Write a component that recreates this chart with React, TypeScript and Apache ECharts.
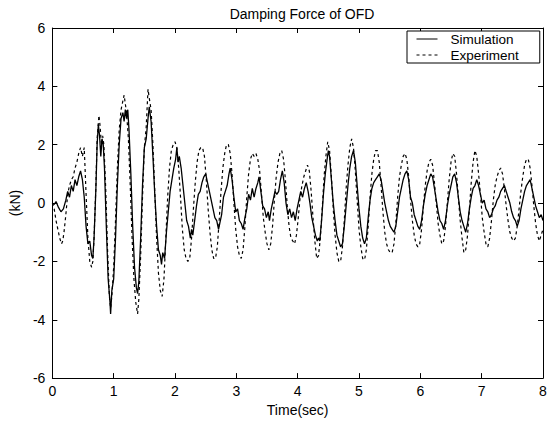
import React, { useEffect, useRef } from "react";
import * as echarts from "echarts";

const title = "Damping Force of OFD";
const xName = "Time(sec)";
const yName = "(kN)";
const seriesNames = ["Simulation", "Experiment"];

const simulation: [number, number][] = [
  [0.0, 0.0], [0.03, -0.05], [0.06, 0.05], [0.1, -0.15], [0.14, -0.3], [0.18, -0.2], [0.22, 0.1], [0.25, 0.4],
  [0.28, 0.2], [0.31, 0.6], [0.34, 0.4], [0.37, 0.8], [0.4, 0.6], [0.43, 0.9], [0.46, 1.1], [0.49, 0.8],
  [0.52, 0.2], [0.55, -0.8], [0.58, -1.4], [0.61, -1.3], [0.64, -1.8], [0.66, -1.9], [0.68, -1.2], [0.71, 0.5],
  [0.73, 2.0], [0.75, 2.7], [0.77, 2.3], [0.79, 1.6], [0.81, 2.2], [0.83, 2.0], [0.85, 1.2], [0.88, -0.8],
  [0.91, -2.6], [0.94, -3.4], [0.95, -3.8], [0.97, -3.0], [1.0, -2.6], [1.03, -1.2], [1.06, 0.6], [1.09, 2.0],
  [1.12, 2.9], [1.15, 3.1], [1.17, 2.8], [1.19, 3.2], [1.21, 2.9], [1.23, 3.2], [1.25, 2.5], [1.28, 1.0],
  [1.31, -0.8], [1.34, -2.2], [1.37, -2.9], [1.39, -3.1], [1.41, -2.7], [1.44, -1.2], [1.47, 0.6], [1.5, 1.9],
  [1.53, 2.2], [1.56, 2.9], [1.58, 3.3], [1.61, 2.8], [1.64, 1.6], [1.67, 0.3], [1.7, -0.8], [1.73, -1.6],
  [1.76, -1.8], [1.78, -2.1], [1.8, -1.7], [1.83, -1.9], [1.86, -1.0], [1.89, -0.3], [1.92, 0.4], [1.95, 0.8],
  [1.98, 1.2], [2.01, 1.5], [2.03, 1.9], [2.05, 1.4], [2.07, 1.6], [2.1, 1.2], [2.13, 0.6], [2.16, 0.0],
  [2.19, -0.6], [2.22, -0.8], [2.25, -1.2], [2.27, -0.9], [2.29, -1.1], [2.32, -0.6], [2.35, -0.1], [2.38, 0.3],
  [2.41, 0.4], [2.44, 0.7], [2.47, 0.9], [2.5, 1.0], [2.53, 0.7], [2.56, 0.4], [2.59, 0.1], [2.62, -0.2],
  [2.65, -0.5], [2.68, -0.6], [2.71, -0.9], [2.73, -0.7], [2.76, -0.4], [2.79, 0.2], [2.82, 0.4], [2.85, 0.6],
  [2.88, 1.0], [2.9, 1.2], [2.93, 0.8], [2.96, 0.2], [2.99, -0.3], [3.02, -0.2], [3.05, -0.6], [3.08, -0.7],
  [3.11, -0.9], [3.14, -0.5], [3.17, -0.2], [3.2, 0.3], [3.23, 0.1], [3.26, 0.5], [3.29, 0.2], [3.32, 0.5],
  [3.35, 0.7], [3.37, 0.9], [3.4, 0.4], [3.43, -0.1], [3.46, -0.2], [3.49, -0.5], [3.52, -0.3], [3.54, -0.6],
  [3.57, -0.2], [3.6, 0.1], [3.63, 0.4], [3.66, 0.3], [3.69, 0.4], [3.72, 0.8], [3.75, 1.1], [3.78, 0.7],
  [3.81, 0.0], [3.84, -0.4], [3.87, -0.2], [3.9, -0.5], [3.93, -0.3], [3.96, -0.6], [3.99, -0.2], [4.02, 0.1],
  [4.05, 0.4], [4.08, 0.2], [4.11, 0.5], [4.14, 0.7], [4.17, 0.4], [4.2, 0.0], [4.23, -0.5], [4.26, -0.8],
  [4.29, -1.1], [4.32, -1.3], [4.34, -1.2], [4.36, -1.3], [4.39, -0.6], [4.42, 0.3], [4.45, 1.0], [4.48, 1.5],
  [4.5, 1.8], [4.52, 1.6], [4.55, 0.8], [4.58, 0.0], [4.61, -0.6], [4.64, -1.1], [4.67, -1.3], [4.7, -1.5],
  [4.73, -1.4], [4.76, -0.8], [4.79, -0.1], [4.82, 0.6], [4.85, 1.2], [4.88, 1.6], [4.91, 1.8], [4.94, 1.4],
  [4.97, 0.6], [5.0, -0.2], [5.03, -0.8], [5.06, -1.2], [5.09, -1.4], [5.12, -1.2], [5.15, -0.5], [5.18, 0.1],
  [5.21, 0.5], [5.24, 0.7], [5.27, 0.8], [5.3, 0.9], [5.33, 1.0], [5.36, 0.8], [5.39, 0.4], [5.42, 0.0],
  [5.45, -0.3], [5.48, -0.6], [5.51, -0.8], [5.54, -0.9], [5.57, -1.0], [5.6, -0.8], [5.63, -0.3], [5.66, 0.2],
  [5.69, 0.5], [5.72, 0.8], [5.75, 1.0], [5.78, 1.1], [5.81, 0.8], [5.84, 0.2], [5.87, 0.0], [5.9, -0.4],
  [5.93, -0.6], [5.96, -0.8], [5.99, -0.9], [6.02, -0.6], [6.05, -0.1], [6.08, 0.3], [6.11, 0.6], [6.14, 0.8],
  [6.17, 1.0], [6.2, 0.9], [6.23, 0.5], [6.26, 0.1], [6.29, -0.3], [6.32, -0.6], [6.35, -0.7], [6.38, -0.9],
  [6.41, -0.6], [6.44, -0.1], [6.47, 0.3], [6.5, 0.6], [6.53, 0.9], [6.56, 1.0], [6.59, 0.7], [6.62, 0.2],
  [6.65, -0.3], [6.68, -0.6], [6.71, -0.8], [6.74, -1.0], [6.77, -0.7], [6.8, -0.2], [6.83, 0.2], [6.86, 0.5],
  [6.89, 0.6], [6.92, 0.8], [6.95, 0.6], [6.98, 0.3], [7.01, 0.0], [7.04, 0.1], [7.07, -0.2], [7.1, -0.3],
  [7.13, -0.5], [7.16, -0.4], [7.19, -0.2], [7.22, -0.1], [7.25, 0.1], [7.28, 0.2], [7.31, 0.4], [7.34, 0.5],
  [7.37, 0.6], [7.4, 0.4], [7.43, 0.2], [7.46, 0.0], [7.49, -0.3], [7.52, -0.5], [7.55, -0.6], [7.58, -0.8],
  [7.61, -0.6], [7.64, -0.2], [7.67, 0.1], [7.7, 0.4], [7.73, 0.6], [7.76, 0.7], [7.79, 0.8], [7.82, 0.5],
  [7.85, 0.2], [7.88, -0.1], [7.91, -0.3], [7.94, -0.5], [7.97, -0.4], [8.0, -0.6],
];

const experiment: [number, number][] = [
  [0.0, 0.0], [0.03, -0.2], [0.06, -0.6], [0.09, -0.9], [0.12, -1.2], [0.15, -1.4], [0.17, -1.3], [0.19, -1.0],
  [0.22, -0.4], [0.25, 0.3], [0.28, 0.6], [0.31, 0.8], [0.34, 0.9], [0.37, 1.2], [0.4, 1.4], [0.43, 1.7],
  [0.46, 1.9], [0.49, 1.6], [0.52, 1.9], [0.55, 0.3], [0.58, -1.2], [0.61, -2.0], [0.64, -2.2], [0.66, -2.0],
  [0.68, -1.2], [0.71, 0.6], [0.73, 2.2], [0.76, 3.0], [0.78, 2.6], [0.8, 2.0], [0.82, 2.3], [0.84, 2.0],
  [0.87, 0.5], [0.9, -1.6], [0.93, -3.2], [0.95, -3.6], [0.97, -3.2], [1.0, -2.2], [1.03, -0.6], [1.06, 1.2],
  [1.09, 2.5], [1.12, 3.2], [1.15, 3.5], [1.17, 3.7], [1.19, 3.4], [1.21, 3.1], [1.24, 2.2], [1.27, 0.6],
  [1.3, -1.2], [1.33, -2.6], [1.36, -3.4], [1.39, -3.8], [1.41, -3.3], [1.44, -1.8], [1.47, 0.2], [1.5, 1.9],
  [1.53, 2.6], [1.56, 3.9], [1.58, 3.6], [1.61, 3.2], [1.64, 2.0], [1.67, 0.4], [1.7, -1.2], [1.73, -2.4],
  [1.76, -3.0], [1.79, -3.2], [1.82, -2.6], [1.85, -1.2], [1.88, 0.2], [1.91, 1.2], [1.94, 1.8], [1.97, 2.0],
  [2.0, 2.1], [2.03, 1.9], [2.06, 1.2], [2.09, 0.2], [2.12, -0.9], [2.15, -1.6], [2.18, -1.9], [2.21, -2.0],
  [2.24, -1.9], [2.27, -1.2], [2.3, -0.2], [2.33, 0.7], [2.36, 1.4], [2.39, 1.8], [2.42, 1.9], [2.45, 1.9],
  [2.48, 1.6], [2.51, 0.8], [2.54, -0.2], [2.57, -1.0], [2.6, -1.6], [2.63, -1.9], [2.66, -1.9], [2.69, -1.5],
  [2.72, -0.6], [2.75, 0.4], [2.78, 1.2], [2.81, 1.7], [2.84, 2.0], [2.87, 2.0], [2.9, 1.7], [2.93, 1.0],
  [2.96, 0.0], [2.99, -0.9], [3.02, -1.5], [3.05, -1.8], [3.08, -1.9], [3.11, -1.6], [3.14, -0.8], [3.17, 0.2],
  [3.2, 1.0], [3.23, 1.5], [3.26, 1.7], [3.29, 1.6], [3.32, 1.7], [3.35, 1.5], [3.38, 1.1], [3.41, 0.3],
  [3.44, -0.5], [3.47, -1.0], [3.5, -1.4], [3.53, -1.6], [3.56, -1.4], [3.59, -0.8], [3.62, 0.1], [3.65, 0.9],
  [3.68, 1.4], [3.71, 1.7], [3.74, 1.8], [3.77, 1.5], [3.8, 0.8], [3.83, -0.1], [3.86, -0.8], [3.89, -1.2],
  [3.92, -1.3], [3.95, -1.4], [3.98, -1.1], [4.01, -0.5], [4.04, 0.2], [4.07, 0.6], [4.1, 0.9], [4.13, 1.1],
  [4.16, 1.3], [4.19, 1.1], [4.22, 0.4], [4.25, -0.5], [4.28, -1.3], [4.31, -1.9], [4.34, -1.8], [4.37, -1.2],
  [4.4, -0.2], [4.43, 0.9], [4.46, 1.6], [4.49, 2.1], [4.52, 1.8], [4.55, 0.9], [4.58, -0.2], [4.61, -1.1],
  [4.64, -1.7], [4.67, -2.0], [4.7, -2.0], [4.73, -1.5], [4.76, -0.6], [4.79, 0.5], [4.82, 1.3], [4.85, 1.9],
  [4.88, 2.2], [4.91, 1.9], [4.94, 1.1], [4.97, 0.1], [5.0, -0.9], [5.03, -1.5], [5.06, -1.9], [5.09, -1.95],
  [5.12, -1.6], [5.15, -0.8], [5.18, 0.2], [5.21, 1.0], [5.24, 1.5], [5.27, 1.8], [5.3, 1.8], [5.33, 1.4],
  [5.36, 0.6], [5.39, -0.3], [5.42, -1.0], [5.45, -1.4], [5.48, -1.6], [5.51, -1.7], [5.54, -1.7], [5.57, -1.4],
  [5.6, -0.7], [5.63, 0.2], [5.66, 0.9], [5.69, 1.3], [5.72, 1.6], [5.75, 1.7], [5.78, 1.5], [5.81, 0.9],
  [5.84, 0.1], [5.87, -0.6], [5.9, -1.1], [5.93, -1.4], [5.96, -1.5], [5.99, -1.4], [6.02, -0.9], [6.05, -0.1],
  [6.08, 0.6], [6.11, 1.1], [6.14, 1.4], [6.17, 1.5], [6.2, 1.3], [6.23, 0.7], [6.26, 0.0], [6.29, -0.7],
  [6.32, -1.1], [6.35, -1.4], [6.38, -1.3], [6.41, -0.8], [6.44, 0.0], [6.47, 0.8], [6.5, 1.4], [6.53, 1.7],
  [6.56, 1.6], [6.59, 1.0], [6.62, 0.2], [6.65, -0.6], [6.68, -1.2], [6.71, -1.7], [6.74, -1.6], [6.77, -1.1],
  [6.8, -0.2], [6.83, 0.7], [6.86, 1.4], [6.89, 1.8], [6.92, 1.6], [6.95, 1.0], [6.98, 0.3], [7.01, -0.5],
  [7.04, -1.0], [7.07, -1.4], [7.1, -1.5], [7.13, -1.2], [7.16, -0.6], [7.19, 0.1], [7.22, 0.6], [7.25, 0.9],
  [7.28, 1.1], [7.31, 1.2], [7.34, 1.0], [7.37, 0.5], [7.4, -0.1], [7.43, -0.6], [7.46, -1.0], [7.49, -1.2],
  [7.52, -1.3], [7.55, -1.2], [7.58, -0.8], [7.61, -0.2], [7.64, 0.4], [7.67, 0.9], [7.7, 1.3], [7.73, 1.5],
  [7.76, 1.5], [7.79, 1.2], [7.82, 0.6], [7.85, -0.1], [7.88, -0.7], [7.91, -1.1], [7.94, -1.3], [7.97, -1.1],
  [8.0, -0.9],
];

const FONT = "'Liberation Sans', Arial, sans-serif";

export default function App() {
  const ref = useRef<HTMLDivElement>(null);
  useEffect(() => {
    if (!ref.current) return;
    const chart = echarts.init(ref.current, undefined, { renderer: "svg" });
    const axisLine = { show: true, onZero: false, lineStyle: { color: "#000", width: 1 } };
    const tick = { show: true, inside: true, length: 5, lineStyle: { color: "#000" } };
    chart.setOption({
      animation: false,
      backgroundColor: "#fff",
      textStyle: { fontFamily: FONT },
      title: {
        text: title,
        left: 297,
        textAlign: "center",
        top: 2,
        textStyle: { fontSize: 14, fontWeight: "normal", color: "#000", fontFamily: FONT },
      },
      legend: {
        orient: "vertical",
        left: 407,
        top: 31,
        padding: [1, 21, 1, 9],
        itemWidth: 21,
        itemHeight: 13,
        itemGap: 2,
        borderColor: "#000",
        borderWidth: 1,
        backgroundColor: "#fff",
        itemStyle: { opacity: 0 },
        lineStyle: { color: "#000", width: 1 },
        textStyle: { fontSize: 13.5, color: "#000", fontFamily: FONT, padding: [0, 0, 0, 8], lineHeight: 13 },
        data: seriesNames,
      },
      grid: { left: 51, right: 14, top: 28, bottom: 40, containLabel: false },
      xAxis: [
        {
          type: "value", min: 0, max: 8, interval: 1,
          name: xName, nameLocation: "middle", nameGap: 24,
          nameTextStyle: { fontSize: 14, color: "#000", fontFamily: FONT },
          axisLine, axisTick: tick, splitLine: { show: false },
          axisLabel: { fontSize: 14, color: "#000", margin: 6, fontFamily: FONT },
        },
        {
          type: "value", min: 0, max: 8, interval: 1, position: "top",
          axisLine, axisTick: tick, splitLine: { show: false }, axisLabel: { show: false },
        },
      ],
      yAxis: [
        {
          type: "value", min: -6, max: 6, interval: 2,
          name: yName, nameLocation: "middle", nameGap: 24,
          nameTextStyle: { fontSize: 14, color: "#000", fontFamily: FONT },
          axisLine, axisTick: tick, splitLine: { show: false },
          axisLabel: { fontSize: 14, color: "#000", margin: 7, fontFamily: FONT },
        },
        {
          type: "value", min: -6, max: 6, interval: 2, position: "right",
          axisLine, axisTick: tick, splitLine: { show: false }, axisLabel: { show: false },
        },
      ],
      series: [
        {
          name: seriesNames[0], type: "line", data: simulation, symbol: "none",
          lineStyle: { color: "#000", width: 1.3, type: "solid" }, itemStyle: { color: "#000" },
        },
        {
          name: seriesNames[1], type: "line", data: experiment, symbol: "none",
          lineStyle: { color: "#000", width: 1.2, type: [3, 3] }, itemStyle: { color: "#000" },
        },
      ],
    });
    return () => chart.dispose();
  }, []);
  return <div ref={ref} style={{ width: 557, height: 422, position: "absolute", left: 0, top: 0 }} />;
}
